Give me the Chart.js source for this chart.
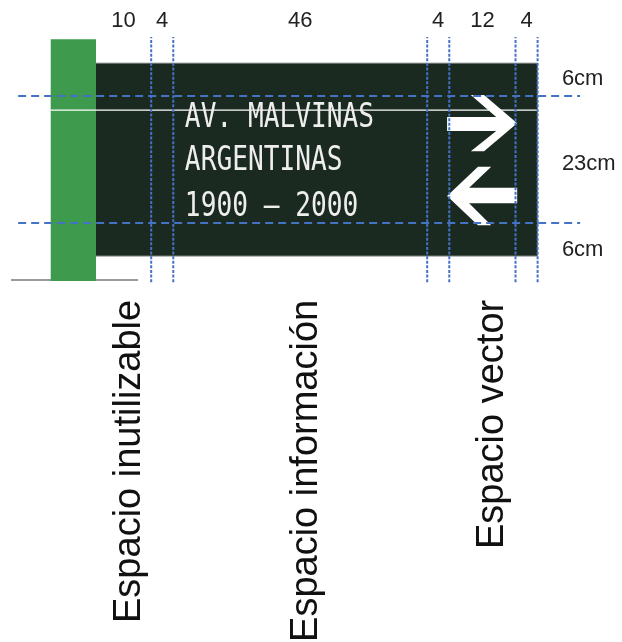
<!DOCTYPE html>
<html><head><meta charset="utf-8">
<script src="https://cdn.jsdelivr.net/npm/chart.js@4.4.1/dist/chart.umd.min.js"></script>
<style>html,body{margin:0;padding:0;background:#fff;}#wrap{width:622px;height:642px;position:relative;}</style>
</head><body><div id="wrap"><canvas id="c"></canvas></div>
<script>
// ---- data (centimetres) ----
const widthSegments = [10, 4, 46, 4, 12, 4];
const widthLabels = ['10', '4', '46', '4', '12', '4'];
const heightSegments = [6, 23, 6];
const heightLabels = ['6cm', '23cm', '6cm'];
const heightLabelBaselines = [31.0, 15.6, 0.0];
const signLines = ['AV. MALVINAS', 'ARGENTINAS', '1900 – 2000'];
const signLineBaselines = [23.4, 15.6, 7.2];
const signTextX = 16.1;
const zoneLabels = ['Espacio inutilizable', 'Espacio información', 'Espacio vector'];
const zoneLabelX = [8.0, 40.0, 73.7];
const zoneLabelEndY = -7.9;
const topLabelBaseline = 41.5;
const heightLabelX = 84.4;
const postX = [-8.2, 0];
const postY = [-4.5, 39.3];
const groundX = [-15.4, 7.6];
const groundY = -4.3;
const whiteLineX = [-8.2, 80];
const whiteLineY = 26.45;
const hDashX = [-14.1, 87.7];
const vDashY = [-4.7, 39.7];
const rightArrowX = [63.6, 72.5, 67.9, 70.3, 76.3, 70.3, 67.9, 72.5, 63.6];
const rightArrowY = [25.2, 25.2, 29.2, 29.2, 24.1, 19.0, 19.0, 22.7, 22.7];
const leftArrowX = [63.6, 69.2, 71.6, 67.6, 76.3, 76.3, 67.6, 71.6, 69.2];
const leftArrowY = [10.9, 16.2, 16.2, 12.4, 12.4, 9.6, 9.6, 5.6, 5.6];

// ---- derived ----
const signWidth = widthSegments.reduce((a, b) => a + b, 0);
const signHeight = heightSegments.reduce((a, b) => a + b, 0);
const vBounds = [];
{ let acc = 0; widthSegments.forEach(w => { acc += w; vBounds.push(acc); }); }
const hBounds = [heightSegments[2], heightSegments[2] + heightSegments[1]];
const pts = (xs, ys) => xs.map((v, i) => ({x: v, y: ys[i]}));
const rect = (x0, x1, y0, y1) => [{x:x0,y:y0},{x:x1,y:y0},{x:x1,y:y1},{x:x0,y:y1}];

const BLUE = '#4472C4';
const datasets = [];
datasets.push({data: rect(postX[0], postX[1], postY[0], postY[1]), backgroundColor: '#3E9A4D', borderWidth: 0, fill: 'shape', order: 20});
datasets.push({data: rect(0, signWidth, 0, signHeight), backgroundColor: '#1B2A20', borderWidth: 0, fill: 'shape', order: 19});
datasets.push({data: [{x:0,y:signHeight},{x:signWidth,y:signHeight}], borderColor: '#b5b5b5', borderWidth: 1, order: 18});
datasets.push({data: [{x:0,y:0},{x:signWidth,y:0}], borderColor: '#b5b5b5', borderWidth: 1, order: 18});
datasets.push({data: [{x:groundX[0],y:groundY},{x:groundX[1],y:groundY}], borderColor: '#7a7a7a', borderWidth: 1.5, order: 21});
datasets.push({data: [{x:whiteLineX[0],y:whiteLineY},{x:whiteLineX[1],y:whiteLineY}], borderColor: '#ffffff', borderWidth: 1.3, order: 17});
datasets.push({data: pts(rightArrowX, rightArrowY), backgroundColor: '#ffffff', borderWidth: 0, fill: 'shape', order: 16});
datasets.push({data: pts(leftArrowX, leftArrowY), backgroundColor: '#ffffff', borderWidth: 0, fill: 'shape', order: 16});
hBounds.forEach(yv => datasets.push({data: [{x:hDashX[0],y:yv},{x:hDashX[1],y:yv}], borderColor: BLUE, borderWidth: 2, borderDash: [8, 5], order: 2}));
vBounds.forEach(xv => datasets.push({data: [{x:xv,y:vDashY[0]},{x:xv,y:vDashY[1]}], borderColor: BLUE, borderWidth: 2, borderDash: [3, 1.6], order: 1}));
datasets.forEach(d => { d.showLine = true; d.pointRadius = 0; d.tension = 0; if (d.fill === undefined) d.fill = false; });

const textPlugin = {
  id: 'texts',
  afterDatasetsDraw(chart) {
    const {ctx, scales: {x, y}} = chart;
    ctx.save();
    // top width labels
    ctx.fillStyle = '#222';
    ctx.font = '22px "Liberation Sans", Arial, sans-serif';
    ctx.textAlign = 'center';
    ctx.textBaseline = 'alphabetic';
    let acc = 0;
    widthSegments.forEach((w, i) => {
      const cx = acc + w / 2; acc += w;
      ctx.fillText(widthLabels[i], x.getPixelForValue(cx), y.getPixelForValue(topLabelBaseline));
    });
    // right height labels
    ctx.textAlign = 'left';
    heightLabels.forEach((t, i) => ctx.fillText(t, x.getPixelForValue(heightLabelX), y.getPixelForValue(heightLabelBaselines[i])));
    // sign text
    ctx.fillStyle = '#eeeeee';
    ctx.font = '34px "DejaVu Sans Mono", monospace';
    signLines.forEach((t, i) => {
      ctx.save();
      ctx.translate(x.getPixelForValue(signTextX), y.getPixelForValue(signLineBaselines[i]));
      ctx.scale(0.77, 1);
      ctx.fillText(t, 0, 0);
      ctx.restore();
    });
    // vertical zone labels
    ctx.fillStyle = '#111';
    ctx.font = '38px "Liberation Sans", Arial, sans-serif';
    ctx.textAlign = 'right';
    zoneLabels.forEach((t, i) => {
      ctx.save();
      ctx.translate(x.getPixelForValue(zoneLabelX[i]), y.getPixelForValue(zoneLabelEndY));
      ctx.rotate(-Math.PI / 2);
      ctx.fillText(t, 0, 0);
      ctx.restore();
    });
    ctx.restore();
  }
};

new Chart(document.getElementById('c'), {
  type: 'scatter',
  data: {datasets},
  options: {
    responsive: true, maintainAspectRatio: false, animation: false,
    layout: {padding: 0},
    plugins: {legend: {display: false}, tooltip: {enabled: false}},
    events: [],
    scales: {
      x: {type: 'linear', min: -17.39, max: 95.29, display: false},
      y: {type: 'linear', min: -69.89, max: 46.41, display: false}
    }
  },
  plugins: [textPlugin]
});
</script></body></html>
